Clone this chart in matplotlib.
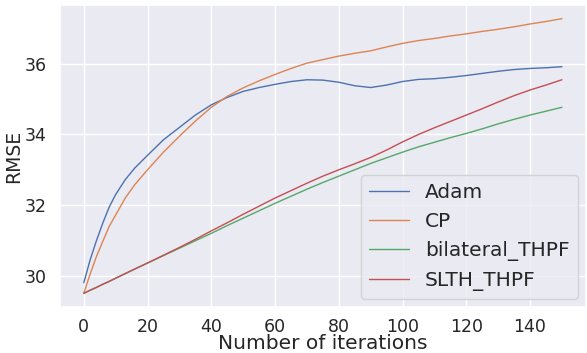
import numpy as np
import matplotlib
matplotlib.use('Agg')
import matplotlib.pyplot as plt
import seaborn as sns

# iterations (denser at the start where the curves bend the most)
iterations = [0, 2, 4, 6, 8, 10, 13, 16, 20, 25, 30, 35, 40, 45, 50, 55, 60, 65,
              70, 75, 80, 85, 90, 95, 100, 105, 110, 115, 120, 125, 130, 135,
              140, 145, 150]

adam = [29.8, 30.45, 31.0, 31.5, 31.95, 32.3, 32.72, 33.05, 33.41, 33.85,
        34.2, 34.55, 34.84, 35.05, 35.22, 35.33, 35.42, 35.5, 35.55, 35.54,
        35.48, 35.38, 35.33, 35.4, 35.5, 35.56, 35.58, 35.62, 35.67, 35.73,
        35.79, 35.84, 35.87, 35.89, 35.92]
cp = [29.5, 30.05, 30.55, 30.98, 31.4, 31.72, 32.2, 32.58, 33.0, 33.5,
      33.95, 34.38, 34.77, 35.08, 35.32, 35.52, 35.7, 35.87, 36.02, 36.12,
      36.22, 36.3, 36.37, 36.48, 36.58, 36.66, 36.72, 36.79, 36.85, 36.92,
      36.98, 37.05, 37.13, 37.2, 37.28]
bilateral = [29.5, 29.59, 29.67, 29.76, 29.84, 29.93, 30.06, 30.19, 30.36, 30.57,
             30.78, 30.99, 31.2, 31.42, 31.63, 31.84, 32.05, 32.25, 32.45, 32.64,
             32.82, 33.0, 33.18, 33.34, 33.5, 33.65, 33.78, 33.91, 34.03, 34.16,
             34.3, 34.43, 34.55, 34.66, 34.77]
slth = [29.5, 29.59, 29.67, 29.76, 29.84, 29.93, 30.06, 30.19, 30.36, 30.58,
        30.8, 31.03, 31.27, 31.5, 31.74, 31.97, 32.2, 32.41, 32.62, 32.82,
        33.0, 33.17, 33.35, 33.56, 33.79, 34.0, 34.19, 34.37, 34.55, 34.73,
        34.92, 35.1, 35.26, 35.4, 35.55]

series = [("Adam", adam), ("CP", cp), ("bilateral_THPF", bilateral), ("SLTH_THPF", slth)]

sns.set_theme(style="darkgrid")
plt.rcParams['font.family'] = ['DejaVu Sans']

fig = plt.figure(figsize=(5.87, 3.53), dpi=100)
ax = fig.add_axes([0.102, 0.13, 0.896, 0.856])

for name, vals in series:
    ax.plot(iterations, vals, label=name, linewidth=1.0)

ax.set_xticks(np.arange(0, 160, 20))
ax.set_yticks([30, 32, 34, 36])
ax.tick_params(labelsize=12.5)
ax.tick_params(axis="x", pad=1.5)
ax.set_xlabel("Number of iterations", fontsize=14.5, labelpad=-1)
ax.set_ylabel("RMSE", fontsize=13.5, labelpad=1)
ax.legend(loc="lower right", fontsize=14.5, borderaxespad=0.4)

fig.savefig("out.png", dpi=100)
